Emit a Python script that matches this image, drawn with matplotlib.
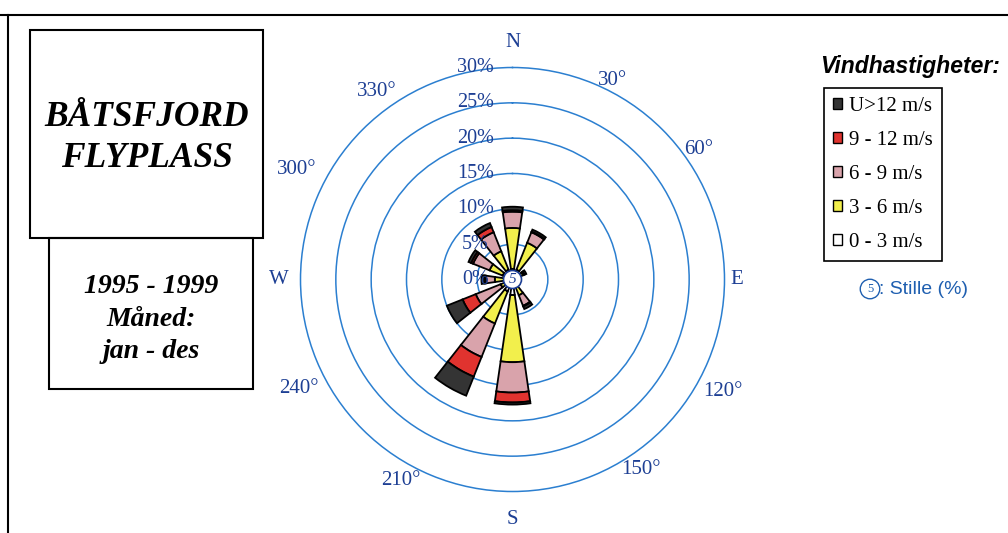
import matplotlib
matplotlib.use("Agg")
import matplotlib.pyplot as plt
import numpy as np
from matplotlib.lines import Line2D
from matplotlib.patches import Circle, Patch, Rectangle
from matplotlib.transforms import offset_copy

# ---------------------------------------------------------------------------
# Data (frequency in % per 30 degree sector, by wind speed class)
# ---------------------------------------------------------------------------

directions = [0, 30, 60, 90, 120, 150, 180, 210, 240, 270, 300, 330]
speed_0_3 = [1.5, 1.5, 1.0, 0.8, 0.9, 1.2, 2.2, 1.8, 1.2, 1.2, 1.5, 1.5]
speed_3_6 = [5.8, 4.1, 0.6, 0.0, 0.2, 1.2, 9.5, 4.9, 0.6, 1.3, 2.0, 2.8]
speed_6_9 = [2.3, 1.6, 0.2, 0.0, 0.0, 1.6, 4.3, 5.1, 3.8, 1.3, 2.5, 2.9]
speed_9_12 = [0.2, 0.1, 0.0, 0.0, 0.0, 0.1, 1.4, 3.0, 2.0, 0.2, 0.3, 0.8]
speed_12_up = [0.5, 0.3, 0.3, 0.0, 0.0, 0.4, 0.3, 2.9, 2.4, 0.4, 0.4, 0.6]

class_labels = ["U>12 m/s", "9 - 12 m/s", "6 - 9 m/s", "3 - 6 m/s", "0 - 3 m/s"]
ring_levels = [0, 5, 10, 15, 20, 25, 30]
calm_pct = 5

compass_labels = ["N", "E", "S", "W"]
degree_labels = ["30°", "60°", "120°", "150°", "210°", "240°", "300°", "330°"]

station = "BÅTSFJORD\nFLYPLASS"
period = "1995 - 1999\nMåned:\njan - des"

# ---------------------------------------------------------------------------
# Styling
# ---------------------------------------------------------------------------

W, H = 1008, 533
COL_WHITE = "#ffffff"
COL_YELLOW = "#f2ef4c"
COL_PINK = "#d9a3ab"
COL_RED = "#e0332f"
COL_DARK = "#343434"
RING = "#2b7fd0"
NAVY = "#1d3f94"
STILLE = "#1f5fb0"
SERIF = "Liberation Serif"
SANS = "Liberation Sans"

# placement of the text around the rose (theta in degrees, r in %)
compass_pos = [(0, 33.5), (90, 31.8), (180, 34.0), (270, 33.0)]
degree_pos = [(26.7, 31.5), (55, 32.1), (118, 33.7), (146, 32.5),
              (209, 32.5), (243, 34.0), (297, 34.2), (324, 32.8)]


def px(x, y):
    """Pixel position (from top left) to figure fraction."""
    return x / W, 1 - y / H


fig = plt.figure(figsize=(W / 100, H / 100), dpi=100)

# outer frame
fig.add_artist(Line2D([0, 1], [1 - 15 / H, 1 - 15 / H], color="black", lw=1.5))
fig.add_artist(Line2D([8 / W, 8 / W], [0, 1 - 15 / H], color="black", lw=1.5))

# title boxes
x0, y0 = px(30, 238)
fig.add_artist(Rectangle((x0, y0), 233 / W, 208 / H, transform=fig.transFigure,
                         fill=False, ec="black", lw=1.5))
x0, y0 = px(49, 389)
fig.add_artist(Rectangle((x0, y0), 204 / W, 151 / H, transform=fig.transFigure,
                         fill=False, ec="black", lw=1.5))
fig.text(*px(147, 138), station, ha="center", va="center", fontsize=25.5,
         family=SERIF, weight="bold", style="italic", linespacing=1.35)
fig.text(*px(151, 319), period, ha="center", va="center", fontsize=20,
         family=SERIF, weight="bold", style="italic", linespacing=1.4)

# ---------------------------------------------------------------------------
# Wind rose
# ---------------------------------------------------------------------------

cx, cy, R = 512.5, 279.5, 212
ax = fig.add_axes([(cx - R) / W, (H - cy - R) / H, 2 * R / W, 2 * R / H],
                  projection="polar")
ax.set_theta_zero_location("N")
ax.set_theta_direction(-1)
ax.set_ylim(0, 30)
ax.set_xticks([])
ax.set_yticks(ring_levels[1:-1])
ax.set_yticklabels([])
ax.yaxis.grid(True, color=RING, lw=1.1)
ax.spines["polar"].set_color(RING)
ax.spines["polar"].set_linewidth(1.1)
ax.patch.set_alpha(0)

theta = np.radians(directions)
width = np.radians(16.5)
bottom = np.zeros(len(directions))
for values, color in [(speed_0_3, COL_WHITE), (speed_3_6, COL_YELLOW),
                      (speed_6_9, COL_PINK), (speed_9_12, COL_RED),
                      (speed_12_up, COL_DARK)]:
    values = np.array(values)
    keep = values > 0
    ax.bar(theta[keep], values[keep], width=width, bottom=bottom[keep],
           color=color, edgecolor="black", lw=1.3, zorder=3)
    bottom += values

# ring labels, a little left of the north axis
label_trans = offset_copy(ax.transData, fig=fig, x=-37, y=0, units="dots")
for lvl in ring_levels:
    ax.text(0, lvl, f"{lvl}%", transform=label_trans, ha="center", va="center",
            fontsize=14.5, family=SERIF, color=NAVY, zorder=4)

# calm circle in the centre
ax.add_patch(Circle((0.5, 0.5), 9 / (2 * R), transform=ax.transAxes,
                    fc="white", ec=NAVY, lw=1.2, zorder=5))
ax.text(0.5, 0.5, str(calm_pct), transform=ax.transAxes, ha="center",
        va="center", fontsize=11, family=SERIF, style="italic", color=NAVY,
        zorder=6)

for lab, (t, r) in zip(compass_labels, compass_pos):
    ax.text(np.radians(t), r, lab, ha="center", va="center", fontsize=15,
            family=SERIF, color=NAVY)
for lab, (t, r) in zip(degree_labels, degree_pos):
    ax.text(np.radians(t), r, lab, ha="center", va="center", fontsize=15,
            family=SERIF, color=NAVY)

# ---------------------------------------------------------------------------
# Legend
# ---------------------------------------------------------------------------

fig.text(*px(910, 67), "Vindhastigheter:", ha="center", va="center",
         fontsize=16.5, family=SANS, weight="bold", style="italic")
handles = [Patch(fc=c, ec="black", lw=1.0)
           for c in [COL_DARK, COL_RED, COL_PINK, COL_YELLOW, COL_WHITE]]
leg = fig.legend(handles, class_labels, loc="upper left",
                 bbox_to_anchor=px(824, 88), borderaxespad=0,
                 prop={"family": SERIF, "size": 15}, fancybox=False,
                 edgecolor="black", framealpha=1, handlelength=0.45,
                 handleheight=0.45, handletextpad=0.35, labelspacing=0.72,
                 borderpad=0.42)
leg.get_frame().set_linewidth(1.2)

fig.text(*px(870, 289), "5", ha="center", va="center", fontsize=9,
         family=SERIF, color=STILLE,
         bbox=dict(boxstyle="circle,pad=0.3", fc="white", ec=STILLE, lw=1))
fig.text(*px(879, 289), ": Stille (%)", ha="left", va="center", fontsize=14,
         family=SANS, color=STILLE)

fig.savefig("out.png", dpi=100)
